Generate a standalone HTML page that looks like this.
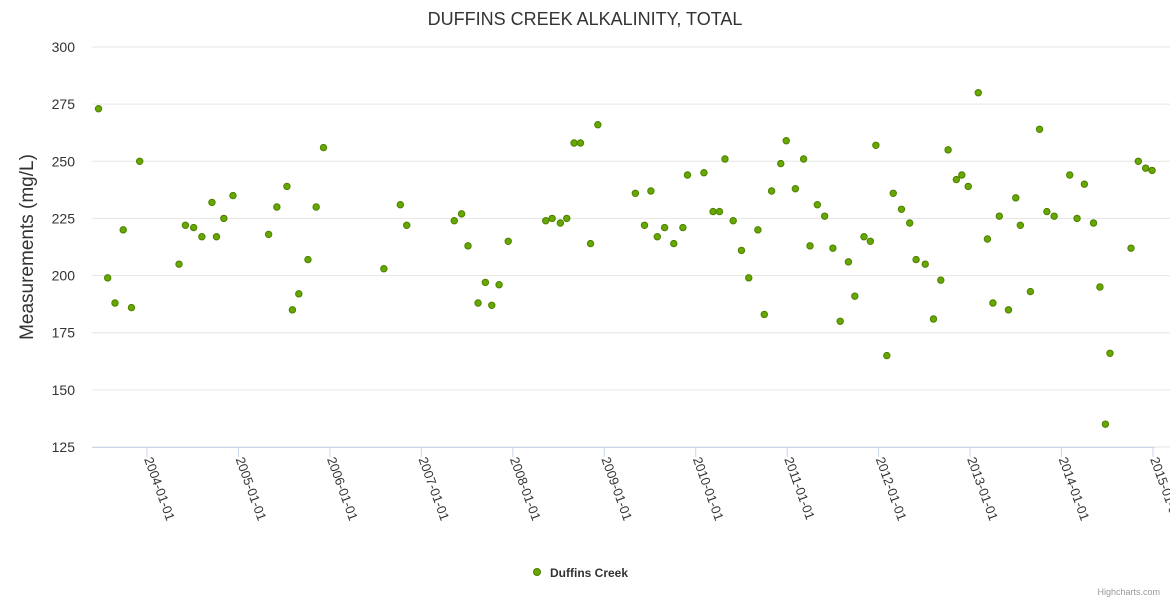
<!DOCTYPE html>
<html><head><meta charset="utf-8">
<style>
body{margin:0;background:#fff;font-family:"Liberation Sans",sans-serif;}
svg text{font-family:"Liberation Sans",sans-serif;}
</style></head>
<body>
<svg id="chart" width="1170" height="600" xmlns="http://www.w3.org/2000/svg">
<rect width="1170" height="600" fill="#fff"/>
<text x="585" y="25" text-anchor="middle" font-size="18" fill="#333">DUFFINS CREEK ALKALINITY, TOTAL</text>
<text transform="translate(33,247) rotate(-90)" text-anchor="middle" font-size="19" fill="#333">Measurements (mg/L)</text>
<g id="grid"></g><g id="xaxis"></g><g id="points"></g>
<g>
<circle cx="537" cy="572" r="3.5" fill="#66a800" stroke="#4d8000"/>
<text x="550" y="577" font-size="12" font-weight="bold" fill="#333">Duffins Creek</text>
</g>
<text x="1160" y="595" text-anchor="end" font-size="9" fill="#999">Highcharts.com</text>
</svg>
<script>
const yTicks=[125,150,175,200,225,250,275,300];
const xTickYears=[2004,2005,2006,2007,2008,2009,2010,2011,2012,2013,2014,2015];
const dates=[2003.47,2003.57,2003.65,2003.74,2003.83,2003.92,2004.35,2004.42,2004.51,2004.60,2004.71,2004.76,2004.84,2004.94,2005.33,2005.42,2005.53,2005.59,2005.66,2005.76,2005.85,2005.93,2006.59,2006.77,2006.84,2007.36,2007.44,2007.51,2007.62,2007.70,2007.77,2007.85,2007.95,2008.36,2008.43,2008.52,2008.59,2008.67,2008.74,2008.85,2008.93,2009.34,2009.44,2009.51,2009.58,2009.66,2009.76,2009.86,2009.91,2010.09,2010.19,2010.26,2010.32,2010.41,2010.50,2010.58,2010.68,2010.75,2010.83,2010.93,2010.99,2011.09,2011.18,2011.25,2011.33,2011.41,2011.50,2011.58,2011.67,2011.74,2011.84,2011.91,2011.97,2012.09,2012.16,2012.25,2012.34,2012.41,2012.51,2012.60,2012.68,2012.76,2012.85,2012.91,2012.98,2013.09,2013.19,2013.25,2013.32,2013.42,2013.50,2013.55,2013.66,2013.76,2013.84,2013.92,2014.09,2014.17,2014.25,2014.35,2014.42,2014.48,2014.53,2014.76,2014.84,2014.92,2014.99];
const values=[273,199,188,220,186,250,205,222,221,217,232,217,225,235,218,230,239,185,192,207,230,256,203,231,222,224,227,213,188,197,187,196,215,224,225,223,225,258,258,214,266,236,222,237,217,221,214,221,244,245,228,228,251,224,211,199,220,183,237,249,259,238,251,213,231,226,212,180,206,191,217,215,257,165,236,229,223,207,205,181,198,255,242,244,239,280,216,188,226,185,234,222,193,264,228,226,244,225,240,223,195,135,166,212,250,247,246];
const NS="http://www.w3.org/2000/svg";
const L=92,R=1155,T=47,B=447;
const xS=y=>147+(y-2004)*91.45;
const yS=v=>B-(v-125)/175*(B-T);
const grid=document.getElementById('grid');
yTicks.forEach(t=>{
 const l=document.createElementNS(NS,'line');
 
 
 l.setAttribute('x1',L);l.setAttribute('x2',1170);l.setAttribute('y1',yS(t));l.setAttribute('y2',yS(t));
 l.setAttribute('stroke','#e6e6e6');grid.appendChild(l);
 const tx=document.createElementNS(NS,'text');
 
 
 tx.setAttribute('x',75);tx.setAttribute('y',yS(t)+5);tx.setAttribute('text-anchor','end');
 tx.setAttribute('font-size','14');tx.setAttribute('fill','#333');tx.textContent=t;grid.appendChild(tx);
});
const xa=document.getElementById('xaxis');
const al=document.createElementNS(NS,'line');


al.setAttribute('x1',L);al.setAttribute('x2',R);al.setAttribute('y1',B+0.5);al.setAttribute('y2',B+0.5);al.setAttribute('stroke','#ccd6eb');xa.appendChild(al);
xTickYears.forEach(yr=>{
 const x=xS(yr);
 const tk=document.createElementNS(NS,'line');
 
 
 tk.setAttribute('x1',x);tk.setAttribute('x2',x);tk.setAttribute('y1',B);tk.setAttribute('y2',B+10);tk.setAttribute('stroke','#ccd6eb');xa.appendChild(tk);
 const tx=document.createElementNS(NS,'text');
 
 
 tx.setAttribute('transform','translate('+(x-3)+','+(B+12)+') rotate(70)');
 tx.setAttribute('font-size','13');tx.setAttribute('fill','#333');tx.textContent=yr+'-01-01';xa.appendChild(tx);
});
const pg=document.getElementById('points');
dates.forEach((d,i)=>{
 const c=document.createElementNS(NS,'circle');
 
 
 c.setAttribute('cx',xS(d));c.setAttribute('cy',yS(values[i]));c.setAttribute('r',3.2);
 c.setAttribute('fill','#66a800');c.setAttribute('stroke','#4d8000');c.setAttribute('stroke-width','1');
 pg.appendChild(c);
});
</script>
</body></html>
